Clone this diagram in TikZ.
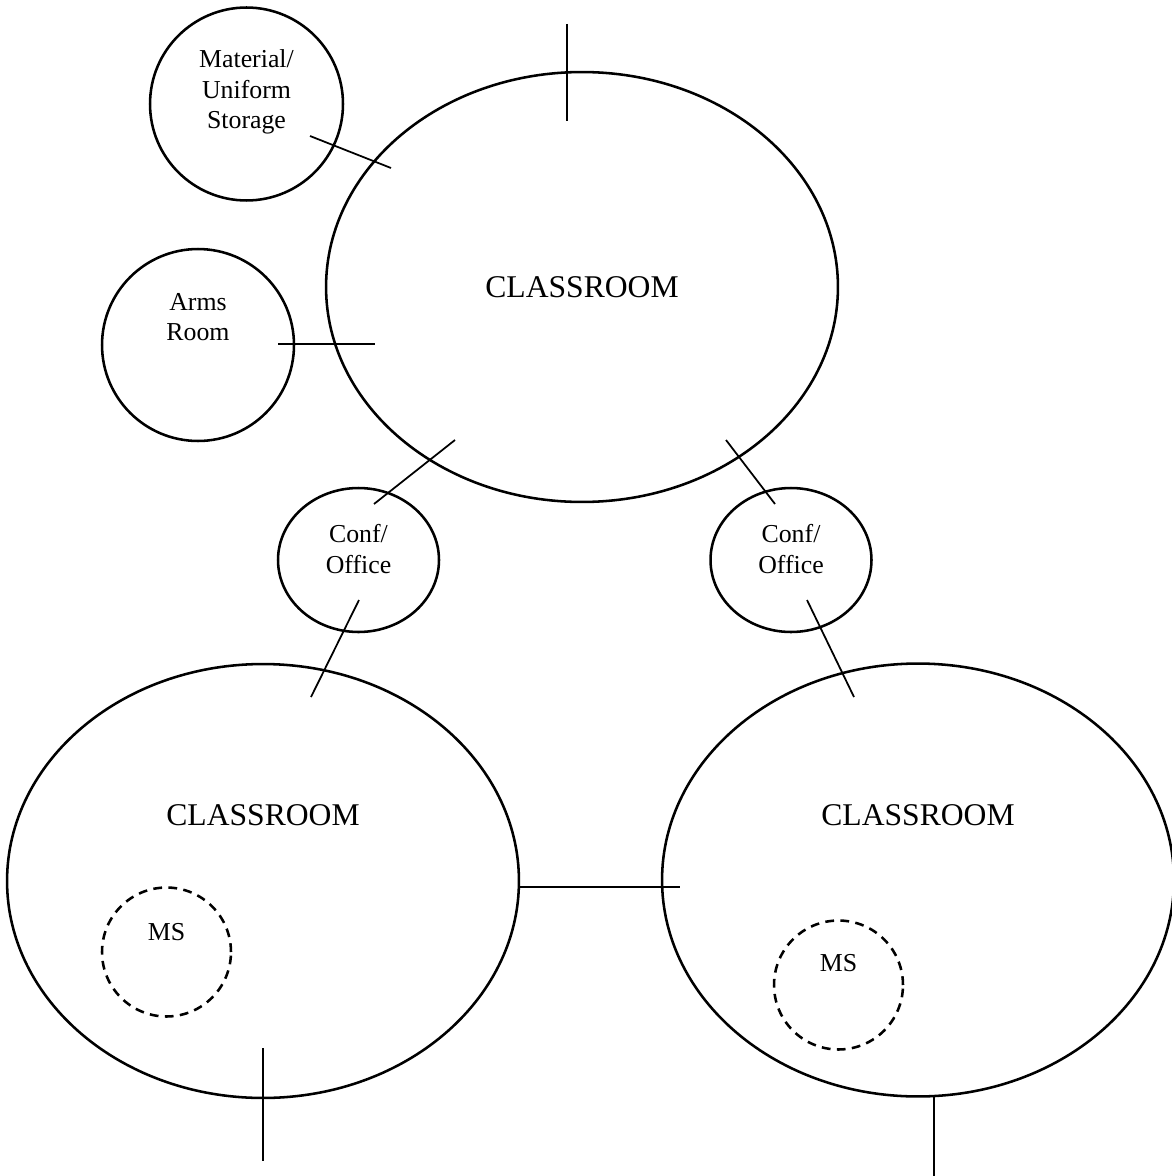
\documentclass[tikz,border=0pt]{standalone}
\usepackage{fontspec}
\setmainfont{Liberation Serif}
\usetikzlibrary{shapes.geometric}

\begin{document}
\begin{tikzpicture}[x=0.02cm,y=-0.02cm,bigtext/.style={font=\fontsize{18}{21}\selectfont},roomtext/.style={align=center,font=\fontsize{14.7}{17.5}\selectfont},room/.style={draw,line width=1.45pt,inner sep=0pt},classroom/.style={room,ellipse,minimum width=10.24cm,bigtext},msroom/.style={room,circle,dashed,dash pattern=on 5pt off 3.6pt,minimum size=2.58cm},door/.style={line width=1pt}]
\useasboundingbox (0,0) rectangle (1172,1176);
\node[classroom,minimum height=8.6cm] (classtop) at (582,287){CLASSROOM};
\node[classroom,minimum height=8.68cm,label={[bigtext,yshift=1.32cm]center:CLASSROOM}] (classleft) at (263,881){};
\node[classroom,minimum height=8.66cm,label={[bigtext,yshift=1.3cm]center:CLASSROOM}] (classright) at (918,880){};
\node[room,circle,minimum size=3.86cm,label={[roomtext,yshift=0.24cm]center:Material/\\Uniform\\Storage}] (storage) at (246.5,104){};
\node[room,circle,minimum size=3.84cm,label={[roomtext,yshift=0.56cm]center:Arms\\Room}] (arms) at (198,345){};
\node[room,ellipse,minimum width=3.22cm,minimum height=2.88cm,label={[roomtext,yshift=0.22cm]center:Conf/\\Office}] (confleft) at (358.5,560){};
\node[room,ellipse,minimum width=3.22cm,minimum height=2.88cm,label={[roomtext,yshift=0.22cm]center:Conf/\\Office}] (confright) at (791,560){};
\node[msroom,label={[roomtext,yshift=0.4cm]center:MS}] (msleft) at (166.5,952){};
\node[msroom,label={[roomtext,yshift=0.44cm]center:MS}] (msright) at (838.5,985){};
% door ticks
\foreach \n/\p in {topA/{567,24},topB/{567,121},storA/{310,136},storB/{391,168},armsA/{278,344},armsB/{375,344},clA/{455,440},clB/{374,504},crA/{726,440},crB/{775,504},cldA/{359,600},cldB/{311,697},crdA/{807,600},crdB/{854,697},midA/{519,887},midB/{680,887},exlA/{263,1048},exlB/{263,1161},exrA/{934,1097},exrB/{934,1176}} \coordinate (\n) at (\p);
\foreach \a/\b in {topA/topB,storA/storB,armsA/armsB,clA/clB,crA/crB,cldA/cldB,crdA/crdB,midA/midB,exlA/exlB,exrA/exrB} \draw[door] (\a) -- (\b);
\end{tikzpicture}
\end{document}
